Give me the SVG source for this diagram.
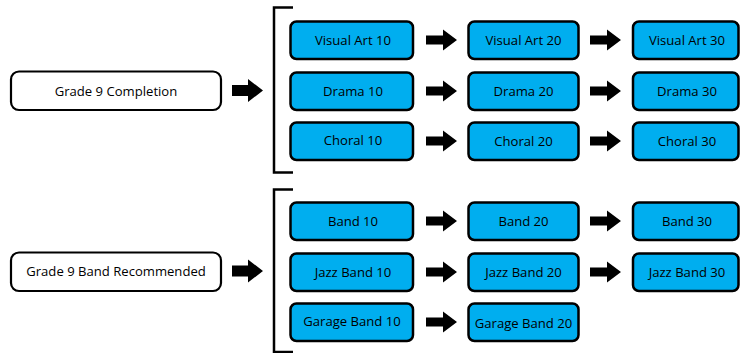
<svg xmlns="http://www.w3.org/2000/svg" width="740" height="353" viewBox="0 0 740 353">
<defs>
<style>
.start{fill:#ffffff;stroke:#000;stroke-width:2.2}
.course{fill:#00aeef;stroke:#000;stroke-width:2.5}
text{font-family:"Open Sans","Noto Sans","Liberation Sans",sans-serif;font-size:13.1px;fill:#000;text-anchor:middle;dominant-baseline:central}
.br{fill:none;stroke:#000;stroke-width:2.5}
.arr{fill:#000}
</style>
<path id="arrow" d="M0,-4.5 H17 V-10.5 L31,0 L17,10.5 V4.5 H0 Z"/>
<path id="arrowL" d="M0,-5.5 H16 V-11.5 L31,0 L16,11.5 V5.5 H0 Z"/>
</defs>
<rect width="740" height="353" fill="#fff"/>

<g id="connectors">
<use href="#arrowL" x="232" y="90.5" class="arr"/>
<use href="#arrowL" x="232" y="271" class="arr"/>
<path class="br" d="M293,7.5 H274 V172.5 H293"/>
<path class="br" d="M293,189.5 H274 V352 H293"/>
<use href="#arrow" x="426" y="40" class="arr"/>
<use href="#arrow" x="590" y="40" class="arr"/>
<use href="#arrow" x="426" y="91" class="arr"/>
<use href="#arrow" x="590" y="91" class="arr"/>
<use href="#arrow" x="426" y="141" class="arr"/>
<use href="#arrow" x="590" y="141" class="arr"/>
<use href="#arrow" x="426" y="221" class="arr"/>
<use href="#arrow" x="590" y="221" class="arr"/>
<use href="#arrow" x="426" y="272" class="arr"/>
<use href="#arrow" x="590" y="272" class="arr"/>
<use href="#arrow" x="426" y="322" class="arr"/>
</g>

<g id="grade9-completion"><rect class="start" x="11" y="71.5" width="210" height="38.5" rx="8"/><text x="116" y="90.5">Grade 9 Completion</text></g>
<g id="grade9-band"><rect class="start" x="11" y="252.5" width="210" height="38.5" rx="8"/><text x="116" y="271">Grade 9 Band Recommended</text></g>

<g id="visual-art-10"><rect class="course" x="290.5" y="21.5" width="122.5" height="37.5" rx="6"/><text x="353" y="40">Visual Art 10</text></g>
<g id="visual-art-20"><rect class="course" x="468.5" y="21.5" width="110" height="37.5" rx="6"/><text x="523.5" y="40">Visual Art 20</text></g>
<g id="visual-art-30"><rect class="course" x="633" y="21.5" width="105.5" height="37.5" rx="6"/><text x="687" y="40">Visual Art 30</text></g>

<g id="drama-10"><rect class="course" x="290.5" y="72.5" width="122.5" height="37.5" rx="6"/><text x="353" y="91">Drama 10</text></g>
<g id="drama-20"><rect class="course" x="468.5" y="72.5" width="110" height="37.5" rx="6"/><text x="523.5" y="91">Drama 20</text></g>
<g id="drama-30"><rect class="course" x="633" y="72.5" width="105.5" height="37.5" rx="6"/><text x="687" y="91">Drama 30</text></g>

<g id="choral-10"><rect class="course" x="290.5" y="122.5" width="122.5" height="37.5" rx="6"/><text x="353" y="140">Choral 10</text></g>
<g id="choral-20"><rect class="course" x="468.5" y="122.5" width="110" height="37.5" rx="6"/><text x="523.5" y="141">Choral 20</text></g>
<g id="choral-30"><rect class="course" x="633" y="122.5" width="105.5" height="37.5" rx="6"/><text x="687" y="141">Choral 30</text></g>

<g id="band-10"><rect class="course" x="290.5" y="202.5" width="122.5" height="37.5" rx="6"/><text x="353" y="221">Band 10</text></g>
<g id="band-20"><rect class="course" x="468.5" y="202.5" width="110" height="37.5" rx="6"/><text x="523.5" y="221">Band 20</text></g>
<g id="band-30"><rect class="course" x="633" y="202.5" width="105.5" height="37.5" rx="6"/><text x="687" y="221">Band 30</text></g>

<g id="jazz-band-10"><rect class="course" x="290.5" y="253.5" width="122.5" height="37.5" rx="6"/><text x="353" y="272">Jazz Band 10</text></g>
<g id="jazz-band-20"><rect class="course" x="468.5" y="253.5" width="110" height="37.5" rx="6"/><text x="523.5" y="272">Jazz Band 20</text></g>
<g id="jazz-band-30"><rect class="course" x="633" y="253.5" width="105.5" height="37.5" rx="6"/><text x="687" y="272">Jazz Band 30</text></g>

<g id="garage-band-10"><rect class="course" x="290.5" y="303.5" width="122.5" height="37.5" rx="6"/><text x="352" y="320.5">Garage Band 10</text></g>
<g id="garage-band-20"><rect class="course" x="468.5" y="303.5" width="110" height="37.5" rx="6"/><text x="523.5" y="322.5">Garage Band 20</text></g>
</svg>
